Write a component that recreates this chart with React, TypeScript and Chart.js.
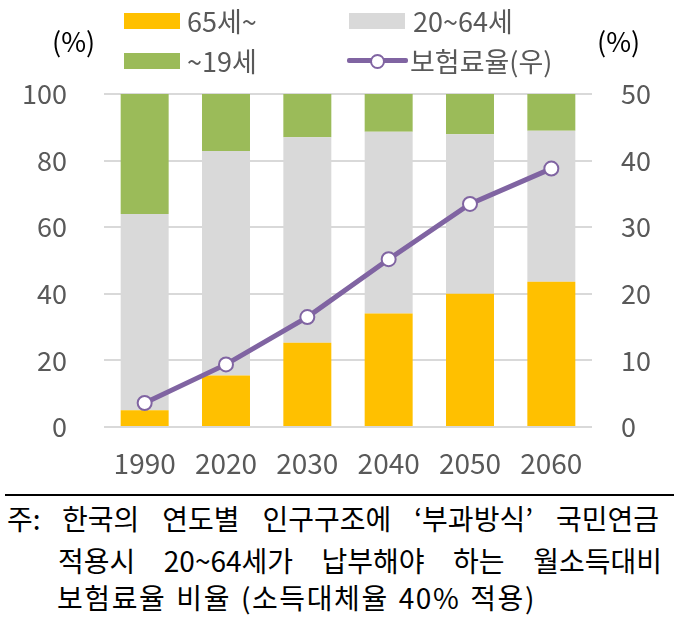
import React, { useEffect, useRef } from "react";
import { Chart, registerables } from "chart.js";
Chart.register(...registerables);

const categories = ["1990", "2020", "2030", "2040", "2050", "2060"];
const age65plus = [5, 15.5, 25.3, 34.1, 40, 43.6];
const age20to64 = [59, 67.4, 61.7, 54.6, 47.9, 45.4];
const age0to19 = [36, 17.1, 13, 11.3, 12.1, 11];
const premiumRate = [3.6, 9.4, 16.5, 25.2, 33.5, 38.8];
const leftTicks = [0, 20, 40, 60, 80, 100];
const rightTicks = [0, 10, 20, 30, 40, 50];

const labels = {
  s65: "65세~",
  s20: "20~64세",
  s19: "~19세",
  line: "보험료율(우)",
  unit: "(%)",
};
const noteRow1 = ["한국의", "연도별", "인구구조에", "‘부과방식’", "국민연금"];
const noteRow2 = ["적용시", "20~64세가", "납부해야", "하는", "월소득대비"];
const noteRow3 = "보험료율 비율 (소득대체율 40% 적용)";

const FONT = "'Noto Sans CJK KR', 'Noto Sans', sans-serif";
const YELLOW = "#FFC000";
const GRAY = "#D9D9D9";
const GREEN = "#9BBB59";
const PURPLE = "#8064A2";
const TEXT = "#595959";

export default function App() {
  const ref = useRef<HTMLCanvasElement | null>(null);

  useEffect(() => {
    if (!ref.current) return;
    const chart = new Chart(ref.current, {
      type: "bar",
      data: {
        labels: categories,
        datasets: [
          {
            type: "line",
            label: labels.line,
            data: premiumRate,
            yAxisID: "y1",
            borderColor: PURPLE,
            borderWidth: 5,
            pointRadius: 7,
            pointBorderWidth: 2,
            pointBackgroundColor: "#FFFFFF",
            pointBorderColor: PURPLE,
            order: 0,
          } as any,
          {
            label: labels.s65,
            data: age65plus,
            backgroundColor: YELLOW,
            stack: "s",
            order: 1,
          },
          {
            label: labels.s20,
            data: age20to64,
            backgroundColor: GRAY,
            stack: "s",
            order: 1,
          },
          {
            label: labels.s19,
            data: age0to19,
            backgroundColor: GREEN,
            stack: "s",
            order: 1,
          },
        ],
      },
      options: {
        responsive: false,
        animation: false,
        layout: { padding: { top: 94, left: 0, right: 0, bottom: 0 } },
        datasets: { bar: { barPercentage: 0.59, categoryPercentage: 1 } },
        plugins: { legend: { display: false }, tooltip: { enabled: false } },
        scales: {
          x: {
            stacked: true,
            grid: { display: false, drawTicks: false },
            border: { display: false },
            ticks: { color: TEXT, font: { family: FONT, size: 28 }, padding: 20 },
            afterFit: (s: any) => {
              s.height = 63;
            },
          },
          y: {
            stacked: true,
            position: "left",
            min: 0,
            max: 100,
            grid: { color: GRAY, lineWidth: 2, drawTicks: false },
            border: { display: false },
            ticks: { color: TEXT, font: { family: FONT, size: 27 }, padding: 37 },
            afterBuildTicks: (s: any) => {
              s.ticks = leftTicks.map((v) => ({ value: v }));
            },
            afterFit: (s: any) => {
              s.width = 104;
            },
          },
          y1: {
            position: "right",
            min: 0,
            max: 50,
            grid: { display: false, drawTicks: false },
            border: { display: false },
            ticks: { color: TEXT, font: { family: FONT, size: 27 }, padding: 29 },
            afterBuildTicks: (s: any) => {
              s.ticks = rightTicks.map((v) => ({ value: v }));
            },
            afterFit: (s: any) => {
              s.width = 82;
            },
          },
        },
      } as any,
    });
    return () => chart.destroy();
  }, []);

  const txt = (extra: React.CSSProperties): React.CSSProperties => ({
    position: "absolute",
    fontFamily: FONT,
    fontSize: 27,
    lineHeight: "27px",
    whiteSpace: "nowrap",
    ...extra,
  });

  const note = (extra: React.CSSProperties): React.CSSProperties =>
    txt({ fontSize: 28, lineHeight: "28px", color: "#000", ...extra });

  const box = (left: number, top: number, color: string): React.CSSProperties => ({
    position: "absolute",
    left,
    top,
    width: 56,
    height: 16,
    background: color,
  });

  return (
    <div
      style={{
        position: "absolute",
        left: 0,
        top: 0,
        width: 674,
        height: 627,
        background: "#fff",
        overflow: "hidden",
      }}
    >
      <canvas ref={ref} width={674} height={490} style={{ position: "absolute", left: 0, top: 0 }} />

      <div style={txt({ left: 52, top: 27, color: "#000" })}>{labels.unit}</div>
      <div style={txt({ left: 597, top: 27, color: "#000" })}>{labels.unit}</div>

      <div style={box(124, 13, YELLOW)} />
      <div style={txt({ left: 187, top: 7, color: TEXT })}>{labels.s65}</div>
      <div style={box(124, 53, GREEN)} />
      <div style={txt({ left: 187, top: 47, color: TEXT })}>{labels.s19}</div>
      <div style={box(349, 13, GRAY)} />
      <div style={txt({ left: 413, top: 7, color: TEXT })}>{labels.s20}</div>
      <div
        style={{
          position: "absolute",
          left: 347,
          top: 58,
          width: 61,
          height: 5,
          background: PURPLE,
          borderRadius: 2,
        }}
      />
      <div
        style={{
          position: "absolute",
          left: 370,
          top: 53.5,
          width: 11,
          height: 11,
          borderRadius: "50%",
          border: `2px solid ${PURPLE}`,
          background: "#fff",
        }}
      />
      <div style={txt({ left: 410, top: 47, color: TEXT })}>{labels.line}</div>

      <div
        style={{
          position: "absolute",
          left: 5,
          top: 494,
          width: 669,
          height: 1.5,
          background: "#000",
        }}
      />
      <div style={note({ left: 7, top: 504 })}>주:</div>
      <div
        style={note({
          left: 62,
          top: 504,
          width: 597,
          display: "flex",
          justifyContent: "space-between",
        })}
      >
        {noteRow1.map((w) => (
          <span key={w}>{w}</span>
        ))}
      </div>
      <div
        style={note({
          left: 58,
          top: 546,
          width: 604,
          display: "flex",
          justifyContent: "space-between",
        })}
      >
        {noteRow2.map((w) => (
          <span key={w}>{w}</span>
        ))}
      </div>
      <div style={note({ left: 57, top: 583, letterSpacing: "1.6px", wordSpacing: "2px" })}>{noteRow3}</div>
    </div>
  );
}
